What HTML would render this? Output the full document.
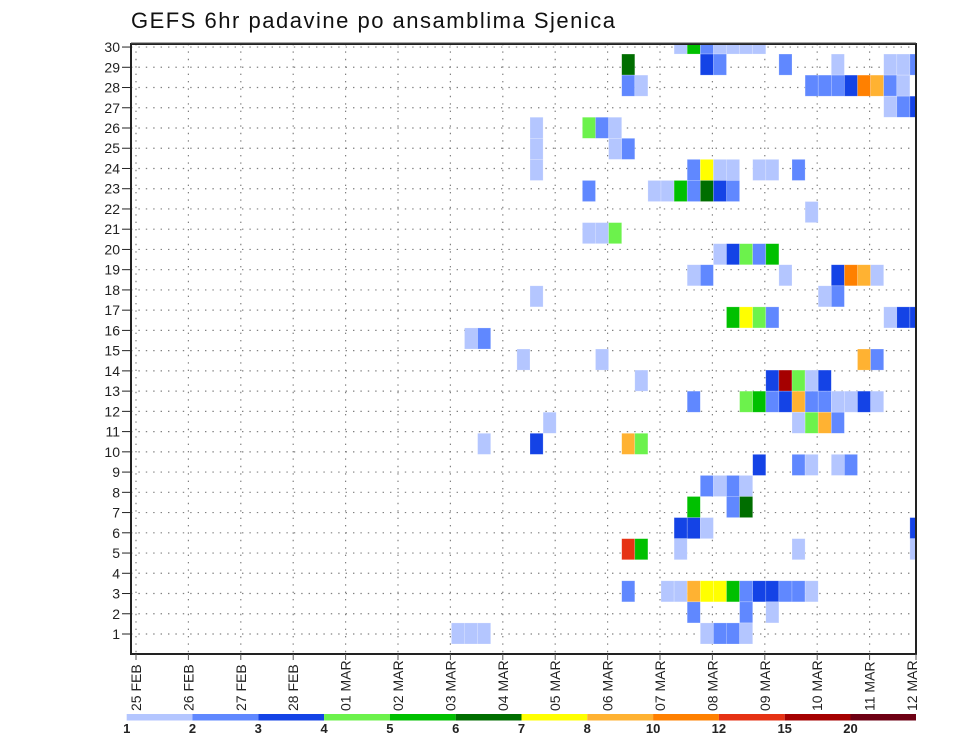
<!DOCTYPE html>
<html><head><meta charset="utf-8"><style>
html,body{margin:0;padding:0;background:#fff;}
svg{display:block;font-family:"Liberation Sans",sans-serif;}
</style></head><body>
<svg id="chart" width="960" height="742" viewBox="0 0 960 742" xmlns="http://www.w3.org/2000/svg">
<text x="131" y="28" font-size="22" textLength="484" lengthAdjust="spacing" fill="#111">GEFS 6hr padavine po ansamblima Sjenica</text>
<g id="grid"></g>
<g id="cells"></g>
<g id="axes"></g>
<g id="colorbar"></g>
</svg>
<script>
// ---- data ----
const dayLabels = ["25 FEB","26 FEB","27 FEB","28 FEB","01 MAR","02 MAR","03 MAR","04 MAR","05 MAR","06 MAR","07 MAR","08 MAR","09 MAR","10 MAR","11 MAR","12 MAR"];
const memberLabels = [1,2,3,4,5,6,7,8,9,10,11,12,13,14,15,16,17,18,19,20,21,22,23,24,25,26,27,28,29,30];
const levelLabels = ["1","2","3","4","5","6","7","8","10","12","15","20"];
const levelValues = [1,2,3,4,5,6,7,8,10,12,15,20];
const levelColors = ["#b4c6ff","#6088ff","#1443e6","#6cf24c","#00c000","#006e00","#ffff00","#ffb232","#ff8000","#e63214","#a50000","#6e0014"];
// member slot (row) for each cell
const cellRow = [
29,29,29,29,29,29,29,
28,28,28,28,28,28,28,28,
27,27,27,27,27,27,27,27,27,27,
26,26,26,
25,25,25,25,
24,24,24,
23,23,23,23,23,23,23,23,
22,22,22,22,22,22,22,22,
21,
20,20,20,
19,19,19,19,19,
18,18,18,18,18,18,18,
17,17,17,
16,16,16,16,16,16,16,
15,15,
14,14,14,14,
13,13,13,13,13,13,
12,12,12,12,12,12,12,12,12,12,12,12,
11,11,11,11,11,
10,10,10,10,
9,9,9,9,9,
8,8,8,8,
7,7,7,
6,6,6,6,
5,5,5,5,5,
3,3,3,3,3,3,3,3,3,3,3,3,3,
2,2,2,
1,1,1,1,1,1,1];
// 6-hour step index since 25 FEB 00Z
const cellStep = [
41,42,43,44,45,46,47,
37,43,44,49,53,57,58,59,
37,38,51,52,53,54,55,56,57,58,
57,58,59,
30,34,35,36,
30,36,37,
30,42,43,44,45,47,48,50,
34,39,40,41,42,43,44,45,
51,
34,35,36,
44,45,46,47,48,
42,43,49,53,54,55,56,
30,52,53,
45,46,47,48,57,58,59,
25,26,
29,35,55,56,
38,48,49,50,51,52,
42,46,47,48,49,50,51,52,53,54,55,56,
31,50,51,52,53,
26,30,37,38,
47,50,51,53,54,
43,44,45,46,
42,45,46,
41,42,43,59,
37,38,41,50,59,
37,40,41,42,43,44,45,46,47,48,49,50,51,
42,46,48,
24,25,26,43,44,45,46];
// precipitation (mm / 6h)
const cellValue = [
1.5,5.5,2.5,1.5,1.5,1.5,1.5,
6.5,3.5,2.5,2.5,1.5,1.5,1.5,2.5,
2.5,1.5,2.5,2.5,2.5,3.5,11,9,2.5,1.5,
1.5,2.5,3.5,
1.5,4.5,2.5,1.5,
1.5,1.5,2.5,
1.5,2.5,7.5,1.5,1.5,1.5,1.5,2.5,
2.5,1.5,1.5,5.5,2.5,6.5,3.5,2.5,
1.5,
1.5,1.5,4.5,
1.5,3.5,4.5,2.5,5.5,
1.5,2.5,1.5,3.5,11,9,1.5,
1.5,1.5,2.5,
5.5,7.5,4.5,2.5,1.5,3.5,3.5,
1.5,2.5,
1.5,1.5,9,2.5,
1.5,3.5,17,4.5,1.5,3.5,
2.5,4.5,5.5,2.5,3.5,9,2.5,2.5,1.5,1.5,3.5,1.5,
1.5,1.5,4.5,9,2.5,
1.5,3.5,9,4.5,
3.5,2.5,1.5,1.5,2.5,
2.5,1.5,2.5,1.5,
5.5,2.5,6.5,
3.5,3.5,1.5,3.5,
13.5,5.5,1.5,1.5,1.5,
2.5,1.5,1.5,9,7.5,7.5,5.5,2.5,3.5,3.5,2.5,2.5,1.5,
2.5,2.5,1.5,
1.5,1.5,1.5,1.5,2.5,2.5,1.5];

// ---- scales ----
const NS = "http://www.w3.org/2000/svg";
const PL = 131, PR = 916, PT = 44, PB = 654;
function dayX(d){ return 136 + d*52.4; }
function stepX(s){ return 137 + s*13.1; }
const STEP_W = 13.1;
function memberTickY(m){ return 634 - (m-1)*20.24; }
const ROW_H = 21.07;
function rowTop(r){ return 644 - r*ROW_H; }
function colorFor(v){
  let idx = 0;
  for (let i=0;i<levelValues.length;i++){ if (v >= levelValues[i]) idx = i; }
  return levelColors[idx];
}
function mk(tag, attrs, parent){
  const e = document.createElementNS(NS, tag);
  for (const k in attrs) e.setAttribute(k, attrs[k]);
  parent.appendChild(e);
  return e;
}

// ---- grid ----
const grid = document.getElementById('grid');
dayLabels.forEach((lab,i)=>{
  const x = dayX(i);
  if (x > PL+2 && x < PR-2){
    const l = mk('line',{x1:x,y1:PT,x2:x,y2:PB,stroke:'#808080','stroke-width':1.2,'stroke-dasharray':'1.4,6'},grid);
    
    
  }
});
memberLabels.forEach(m=>{
  const y = memberTickY(m);
  if (y > PT+2){
    const l = mk('line',{x1:PL,y1:y,x2:PR,y2:y,stroke:'#808080','stroke-width':1.2,'stroke-dasharray':'1.4,6'},grid);
    
    
  }
});

// ---- cells ----
const cells = document.getElementById('cells');
for (let i=0;i<cellValue.length;i++){
  let x = stepX(cellStep[i]), w = STEP_W;
  let y = rowTop(cellRow[i]), h = ROW_H;
  if (y < PT){ h -= (PT - y); y = PT; }
  if (x + w > PR){ w = PR - x; }
  const r = mk('rect',{x:x.toFixed(2),y:y.toFixed(2),width:w.toFixed(2),height:h.toFixed(2),fill:colorFor(cellValue[i]),stroke:'#ffffff','stroke-opacity':0.35,'stroke-width':0.6},cells);
  
  
}

// ---- axes ----
const axes = document.getElementById('axes');
const frame = mk('rect',{x:PL,y:PT,width:PR-PL,height:PB-PT,fill:'none',stroke:'#222','stroke-width':2},axes);


const topLine = mk('line',{x1:PL,y1:PT-1,x2:PR,y2:PT-1,stroke:'#555','stroke-width':1},axes);


memberLabels.forEach(m=>{
  const y = memberTickY(m);
  const t = mk('line',{x1:122,y1:y,x2:PL,y2:y,stroke:'#222','stroke-width':1},axes);
  
  
  const tx = mk('text',{x:120,y:y+5,'font-size':14,'text-anchor':'end',fill:'#222'},axes);
  tx.textContent = String(m);
  
  
});
dayLabels.forEach((lab,i)=>{
  const x = Math.min(dayX(i), PR);
  const t = mk('line',{x1:x,y1:PB,x2:x,y2:PB+6,stroke:'#555','stroke-width':1},axes);
  
  
  const lx = Math.min(x, 912);
  const tx = mk('text',{x:0,y:0,'font-size':14,'text-anchor':'start',fill:'#222',transform:'translate('+(lx+5)+',711) rotate(-90)','xml:space':'preserve'},axes);
  tx.textContent = lab.replace(' ','  ');
  
  
});

// ---- colorbar ----
const cb = document.getElementById('colorbar');
const CB0 = 126.7, CBW = 65.8, CBR = 916;
levelColors.forEach((c,i)=>{
  const x = CB0 + i*CBW;
  const w = (i === levelColors.length-1) ? CBR - x : CBW;
  const r = mk('rect',{x:x,y:714,width:w,height:6.5,fill:c},cb);
  
  
});
levelLabels.forEach((lab,i)=>{
  const t = mk('text',{x:CB0 + i*CBW,y:733,'font-size':13,'font-weight':'bold','text-anchor':'middle',fill:'#222'},cb);
  t.textContent = lab;
  
  
});
</script>
</body></html>
